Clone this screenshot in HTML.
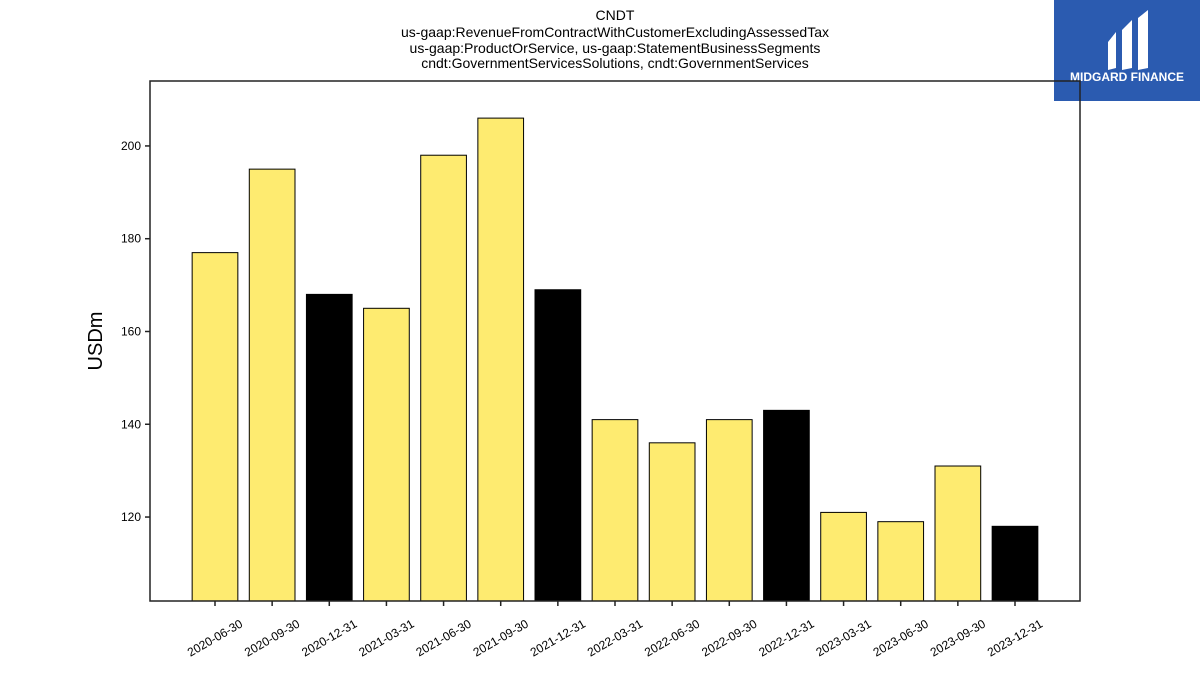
<!DOCTYPE html>
<html><head><meta charset="utf-8"><style>
body{margin:0;background:#fff;}
svg{display:block;font-family:"Liberation Sans","DejaVu Sans",sans-serif;}
</style></head><body>
<svg width="1200" height="675" viewBox="0 0 1200 675">
<g font-size="14" text-anchor="middle" fill="#000">
<text x="615" y="20">CNDT</text>
<text x="615" y="37">us-gaap:RevenueFromContractWithCustomerExcludingAssessedTax</text>
<text x="615" y="53">us-gaap:ProductOrService, us-gaap:StatementBusinessSegments</text>
<text x="615" y="68">cndt:GovernmentServicesSolutions, cndt:GovernmentServices</text>
</g>
<g>
<rect x="1054" y="0" width="146" height="101" fill="#2b5bb0"/>
<path d="M1108 42 L1116 32 L1116 68 L1108 70 Z" fill="#fff"/>
<path d="M1122 30 L1132 20 L1132 68 L1122 70 Z" fill="#fff"/>
<path d="M1138 18 L1148 10 L1148 68 L1138 70 Z" fill="#fff"/>
<text x="1127" y="81" font-size="12" font-weight="bold" fill="#fff" text-anchor="middle">MIDGARD FINANCE</text>
</g>
<g id="bars"></g>
<g id="axes"></g>
<text x="102" y="341" font-size="20" text-anchor="middle" transform="rotate(-90 102 341)">USDm</text>
</svg>
<script>
const categories=["2020-06-30","2020-09-30","2020-12-31","2021-03-31","2021-06-30","2021-09-30","2021-12-31","2022-03-31","2022-06-30","2022-09-30","2022-12-31","2023-03-31","2023-06-30","2023-09-30","2023-12-31"];
const values=[177,195,168,165,198,206,169,141,136,141,143,121,119,131,118];
const yTicks=[120,140,160,180,200];
const L=150,R=1080,T=81,B=601,yMin=101.9,yMax=214;
const x=i=>215+i*(1015-215)/(categories.length-1);
const y=v=>B-(v-yMin)/(yMax-yMin)*(B-T);
const NS="http://www.w3.org/2000/svg";
function mk(t,a,p){const e=document.createElementNS(NS,t);for(const k in a)e.setAttribute(k,a[k]);p.appendChild(e);return e;}
const bars=document.getElementById('bars'),axes=document.getElementById('axes');
const bw=45.7;
values.forEach((v,i)=>{
 const q4=categories[i].endsWith('12-31');
 const r=mk('rect',{x:x(i)-bw/2,y:y(v),width:bw,height:B-y(v),fill:q4?'#000':'#feeb70',stroke:'#000','stroke-width':1},bars);
 
 
 const tk=mk('line',{x1:x(i),x2:x(i),y1:B,y2:B+5,stroke:'#222','stroke-width':1.5},axes);
 
 
 const t=mk('text',{x:x(i),y:642,'font-size':12,'text-anchor':'middle',transform:`rotate(-30 ${x(i)} 638)`},axes);
 t.textContent=categories[i];
 
 
});
yTicks.forEach(v=>{
 const tk=mk('line',{x1:L-5,x2:L,y1:y(v),y2:y(v),stroke:'#222','stroke-width':1.5},axes);
 
 
 const t=mk('text',{x:L-9,y:y(v)+4,'font-size':12,'text-anchor':'end'},axes);
 t.textContent=v;
 
 
});
const f=mk('rect',{x:L,y:T,width:R-L,height:B-T,fill:'none',stroke:'#222','stroke-width':1.5},axes);


</script>
</body></html>
